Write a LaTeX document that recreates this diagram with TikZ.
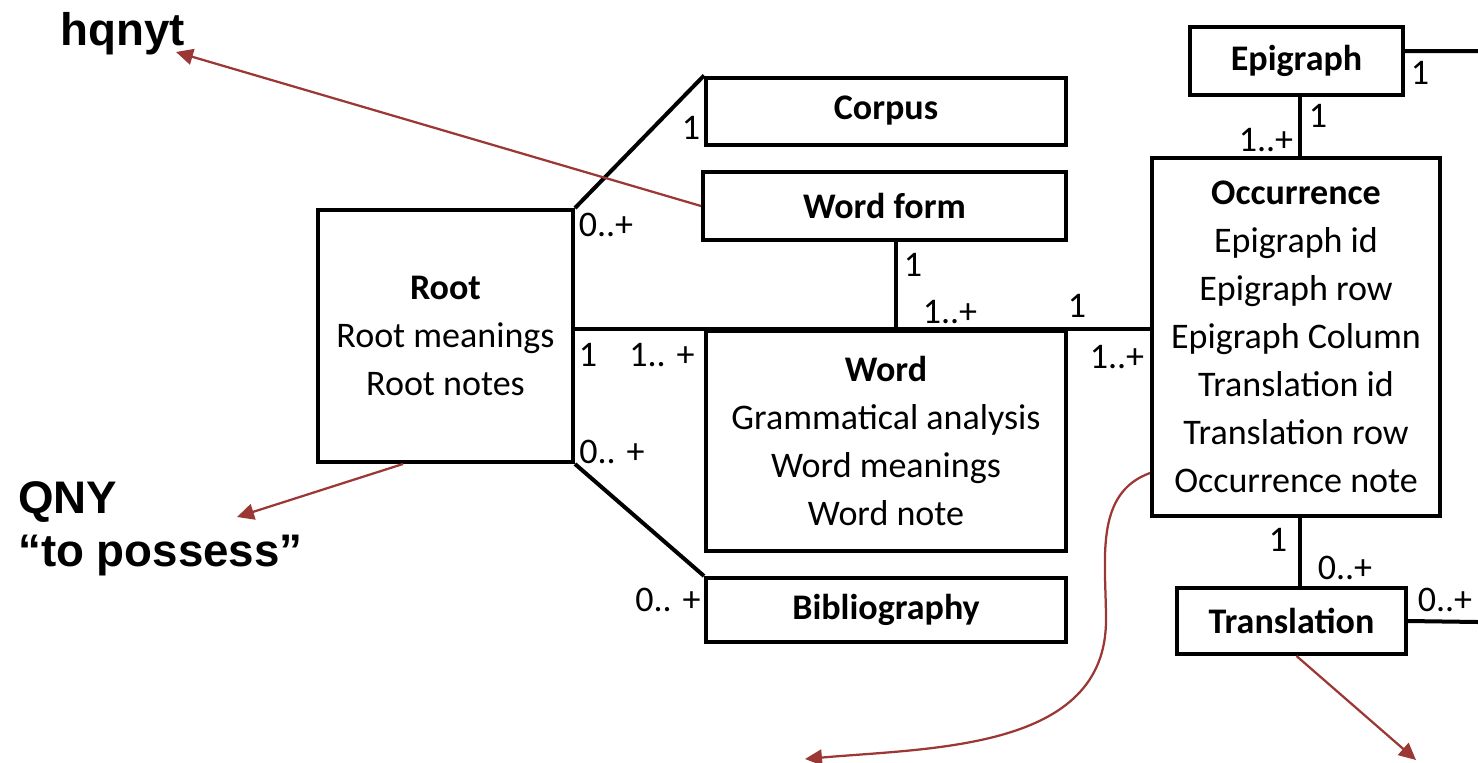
\documentclass[tikz,border=0pt]{standalone}
\usepackage{fontspec}
\setmainfont{Carlito}
\newfontfamily\labelfont{Liberation Sans}
\usetikzlibrary{arrows.meta}
\definecolor{notered}{RGB}{155,55,52}

\tikzset{
  entity/.style={draw, line width=0.08cm, inner sep=0pt, align=center},
  link/.style={line width=0.08cm},
  mult/.style={inner sep=0pt},
  note/.style={draw=notered, line width=0.045cm, -{Triangle[length=0.34cm,width=0.32cm]}},
}

\begin{document}
\begin{tikzpicture}[x=0.02cm, y=-0.02cm, font=\fontsize{20.5}{27.3}\selectfont]
		\useasboundingbox (0,0) rectangle (1478,762);
		% entities
		\node[entity, minimum width=7.2cm, minimum height=1.34cm] (corpus) at (886,111) {\textbf{Corpus}};
		\node[entity, minimum width=7.26cm, minimum height=1.36cm] (wordform) at (884.5,206) {\textbf{Word form}};
		\node[entity, minimum width=5.1cm, minimum height=5.04cm] (root) at (445.5,336) {\textbf{Root}\\Root meanings\\Root notes};
		\node[entity, minimum width=7.2cm, minimum height=4.4cm] (word) at (886,441) {\textbf{Word}\\Grammatical analysis\\Word meanings\\Word note};
		\node[entity, minimum width=7.2cm, minimum height=1.28cm] (biblio) at (886,610) {\textbf{Bibliography}};
		\node[entity, minimum width=4.26cm, minimum height=1.36cm] (epi) at (1296.5,61) {\textbf{Epigraph}};
		\node[entity, minimum width=5.76cm, minimum height=7.16cm] (occ) at (1296,337) {\textbf{Occurrence}\\Epigraph id\\Epigraph row\\Epigraph Column\\Translation id\\Translation row\\Occurrence note};
		\node[entity, minimum width=4.58cm, minimum height=1.32cm] (trans) at (1291.5,621) {\textbf{Translation}};
		\coordinate (epiR) at (1478,51);
		\coordinate (transR) at (1478,622);

		% relations
		\draw[link] (root.north east) -- (corpus.north west);
		\draw[link] (root.south east) -- (biblio.north west);
		\draw[link] (root.east |- word.north) -- (occ.west |- word.north);
		\draw[link] ([xshift=0.23cm]wordform.south) -- ([xshift=0.23cm]wordform.south |- word.north);
		\draw[link] ([xshift=0.07cm]epi.south) -- ([xshift=0.07cm]epi.south |- occ.north);
		\draw[link] ([xshift=0.08cm]occ.south) -- ([xshift=0.08cm]occ.south |- trans.north);
		\draw[link] ([yshift=0.2cm]epi.east) -- (epiR);
		\draw[link] (trans.east) -- (transR);

		% multiplicities
		\node[mult] (m1) at (691,128) {1};
		\node[mult] (m2) at (606,225) {0..+};
		\node[mult] (m3) at (913,265) {1};
		\node[mult] (m4) at (950,312) {1..+};
		\node[mult] (m5) at (1077,306) {1};
		\node[mult] (m6) at (588,355) {1};
		\node[mult] (m7) at (662,355) {1.. +};
		\node[mult] (m8) at (1117,357) {1..+};
		\node[mult] (m9) at (612,452) {0.. +};
		\node[mult] (m10) at (668,600) {0.. +};
		\node[mult] (m11) at (1420,73) {1};
		\node[mult] (m12) at (1318,116) {1};
		\node[mult] (m13) at (1266,140) {1..+};
		\node[mult] (m14) at (1278,540) {1};
		\node[mult] (m15) at (1345,568) {0..+};
		\node[mult] (m16) at (1445,600) {0..+};

		% notes
		\node[anchor=base west, inner sep=0pt, font=\labelfont\bfseries\fontsize{26}{30}\selectfont] (hqnyt) at (60,45) {hqnyt};
		\node[anchor=base west, inner sep=0pt, font=\labelfont\bfseries\fontsize{26}{30}\selectfont] (qny) at (18,513) {QNY};
		\node[anchor=base west, inner sep=0pt, font=\labelfont\bfseries\fontsize{26}{30}\selectfont] (possess) at (18,566) {“to possess”};
		\coordinate (hqnytTip) at (176,52);
		\coordinate (qnyTip) at (237,517);
		\coordinate (occTip) at (805,759);
		\coordinate (transTip) at (1416,760);
		\draw[note] (wordform.west) -- (hqnytTip);
		\draw[note] ([xshift=-0.85cm]root.south) -- (qnyTip);
		\draw[note] ([yshift=0.9cm]occ.south west) to[out=200,in=90] (1106,620) to[out=-90,in=5] (occTip);
		\draw[note] ([xshift=0.1cm]trans.south) -- (transTip);
	\end{tikzpicture}
\end{document}
